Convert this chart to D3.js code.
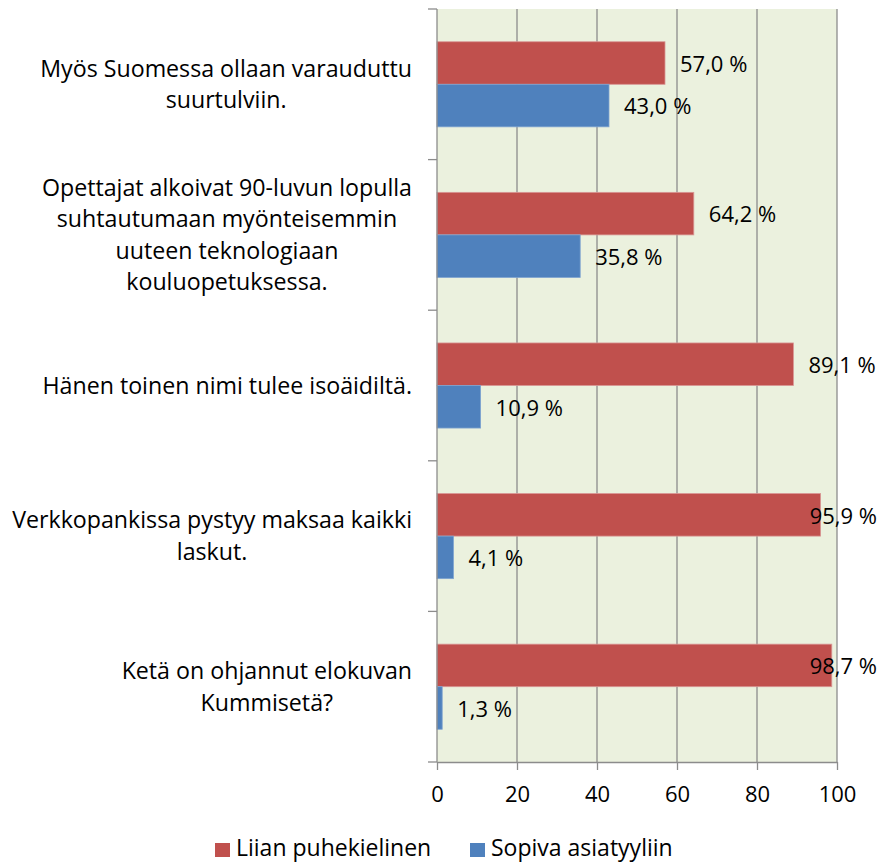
<!DOCTYPE html>
<html>
<head>
<meta charset="utf-8">
<script src="https://cdn.jsdelivr.net/npm/d3@7"></script>
<style>
  body { margin: 0; background: #fff; }
  svg text { font-family: "Open Sans", sans-serif; fill: #000; }
</style>
</head>
<body>
<script>
const categories = [
  ["Myös Suomessa ollaan varauduttu", "suurtulviin."],
  ["Opettajat alkoivat 90-luvun lopulla", "suhtautumaan myönteisemmin", "uuteen teknologiaan", "kouluopetuksessa."],
  ["Hänen toinen nimi tulee isoäidiltä."],
  ["Verkkopankissa pystyy maksaa kaikki", "laskut."],
  ["Ketä on ohjannut elokuvan", "Kummisetä?"]
];
const seriesNames = ["Liian puhekielinen", "Sopiva asiatyyliin"];
const liianValues = [57.0, 64.2, 89.1, 95.9, 98.7];
const sopivaValues = [43.0, 35.8, 10.9, 4.1, 1.3];
const xTicks = [0, 20, 40, 60, 80, 100];
const colors = ["#C0504D", "#4F81BD"];

const W = 881, H = 865;
const margin = {top: 9, right: 44, bottom: 103, left: 437};

let svg = d3.select("body").append("svg")
      .attr("width", W).attr("height", H);

let x = d3.scaleLinear().domain([0, 100]).range([margin.left, W - margin.right]);

let keys = categories.map((c, i) => i);
let y0 = d3.scaleBand()
      .domain(keys)
      .range([margin.top, H - margin.bottom])
      .paddingInner(0.435)
      .paddingOuter(0.2175);
let y1 = d3.scaleBand().domain([0, 1]).range([0, y0.bandwidth()]);

let rows = keys.map(i => ({i: i, values: [liianValues[i], sopivaValues[i]]}));

// plot background
svg.append("rect")
  .attr("x", x(0)).attr("y", margin.top)
  .attr("width", x(100) - x(0)).attr("height", H - margin.bottom - margin.top)
  .attr("fill", "#EBF1DE");

// vertical gridlines
svg.append("g").selectAll("line")
  .data(xTicks.slice(1))
  .enter().append("line")
    .attr("x1", d => x(d)).attr("x2", d => x(d))
    .attr("y1", margin.top).attr("y2", H - margin.bottom)
    .attr("stroke", "#8C8C8C").attr("stroke-width", 1.3);

// bars
let groups = svg.append("g").selectAll("g")
  .data(rows)
  .enter().append("g")
    .attr("transform", d => "translate(0," + y0(d.i) + ")");

groups.selectAll("rect")
  .data(d => d.values.map((v, s) => ({v: v, s: s})))
  .enter().append("rect")
    .attr("x", x(0))
    .attr("y", d => y1(d.s))
    .attr("width", d => x(d.v) - x(0))
    .attr("height", y1.bandwidth())
    .attr("fill", d => colors[d.s])
    .attr("stroke", d => d.s === 0 ? "#D99694" : "#7EA3D0")
    .attr("stroke-width", 0.8);

// value labels, kept inside the picture at the right edge
groups.selectAll("text")
  .data(d => d.values.map((v, s) => ({v: v, s: s})))
  .enter().append("text")
    .attr("y", d => y1(d.s) + y1.bandwidth() / 2)
    .attr("dy", "0.4em")
    .style("font-size", "22px")
    .text(d => d.v.toFixed(1).replace(".", ",") + " %")
    .attr("x", function (d) {
      let w = this.getComputedTextLength();
      return Math.min(x(d.v) + 15, W - 4 - w);
    });

// left axis line and boundary ticks
let axisColor = "#8C8C8C";
svg.append("line")
  .attr("x1", x(0)).attr("x2", x(0))
  .attr("y1", margin.top).attr("y2", H - margin.bottom)
  .attr("stroke", axisColor).attr("stroke-width", 1.3);

let bounds = d3.range(keys.length + 1).map(i => margin.top + i * y0.step());
svg.append("g").selectAll("line")
  .data(bounds)
  .enter().append("line")
    .attr("x1", x(0) - 9).attr("x2", x(0))
    .attr("y1", d => d).attr("y2", d => d)
    .attr("stroke", axisColor).attr("stroke-width", 1.3);

// bottom axis
let xAxis = svg.append("g")
  .attr("transform", "translate(0," + (H - margin.bottom) + ")")
  .call(d3.axisBottom(x).tickValues(xTicks).tickSize(8).tickSizeOuter(0).tickPadding(16));
xAxis.select(".domain").attr("stroke", axisColor).attr("stroke-width", 1.3);
xAxis.selectAll(".tick line").attr("stroke", axisColor).attr("stroke-width", 1.3);
xAxis.selectAll("text").style("font-size", "22px").attr("fill", "#000");

// category labels: block right aligned, lines centred inside the block
let lineH = 31.5;
let labelRight = 412;
let cats = svg.append("g").selectAll("g")
  .data(rows)
  .enter().append("g");

cats.each(function (d) {
  let g = d3.select(this);
  let lines = categories[d.i];
  let cy = y0(d.i) + y0.bandwidth() / 2;
  let t = g.selectAll("text")
    .data(lines)
    .enter().append("text")
      .style("font-size", "23.2px")
      .attr("y", (l, k) => cy + (k - (lines.length - 1) / 2) * lineH)
      .attr("dy", "0.35em")
      .text(l => l);
  let maxW = d3.max(t.nodes(), n => n.getComputedTextLength());
  t.attr("text-anchor", "middle").attr("x", labelRight - maxW / 2);
});

// legend
let legend = svg.append("g").attr("transform", "translate(215," + 848 + ")");
let lx = [0, 255];
seriesNames.forEach((name, s) => {
  legend.append("rect")
    .attr("x", lx[s]).attr("y", -5)
    .attr("width", 15).attr("height", 14)
    .attr("fill", colors[s]);
  legend.append("text")
    .attr("x", lx[s] + 21).attr("y", 0)
    .attr("dy", "0.35em")
    .style("font-size", "23px")
    .text(name);
});
</script>
</body>
</html>
